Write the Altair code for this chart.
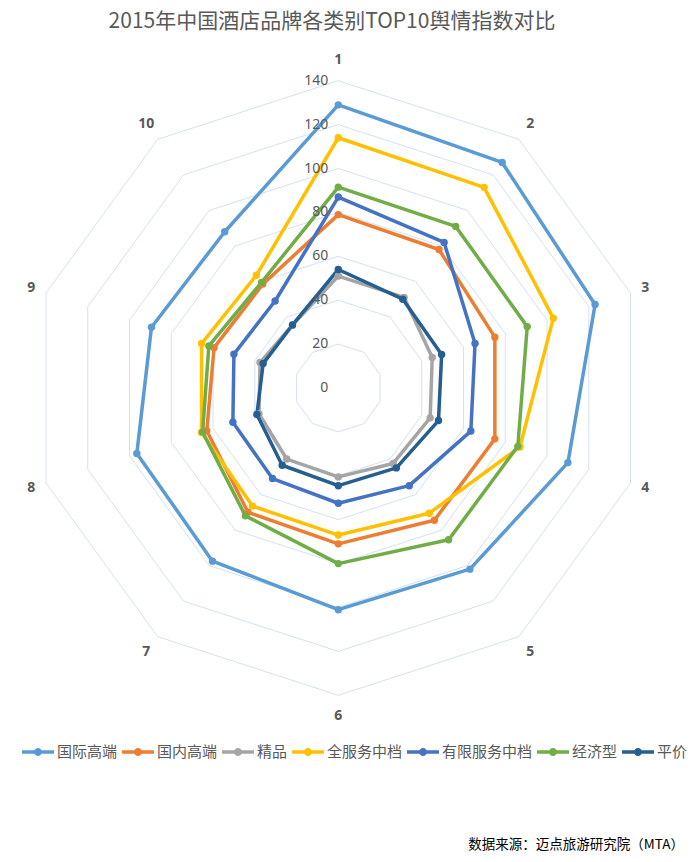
import altair as alt
import pandas as pd

# ---- data ----
axes = [str(i) for i in range(1, 11)]
series = ["国际高端", "国内高端", "精品", "全服务中档", "有限服务中档", "经济型", "平价"]
colors = ["#5B9BD5", "#ED7D31", "#A5A5A5", "#FFC000", "#4472C4", "#70AD47", "#255E91"]

v_intl_high = [129, 127, 123, 110, 102, 101, 97.5, 96.5, 89.5, 88]
v_dom_high = [79, 78, 75, 75, 74.5, 71, 70, 63, 59.5, 58.5]
v_boutique = [51, 51, 45, 44, 42.5, 40.5, 40, 38, 37.5, 35.5]
v_full_mid = [114, 113, 103, 87, 70.5, 67, 66.5, 65.5, 65.5, 63.5]
v_ltd_mid = [87, 82, 65.5, 63.5, 55, 52.5, 51, 50.5, 50, 49]
v_economy = [91.5, 91, 90.5, 86, 85.5, 80, 72, 65, 62, 59.5]
v_budget = [54, 50, 49.5, 48, 45, 44.5, 43.5, 39, 36, 35.5]

ticks = [0, 20, 40, 60, 80, 100, 120, 140]

title_text = "2015年中国酒店品牌各类别TOP10舆情指数对比"
source_text = "数据来源：迈点旅游研究院（MTA）"

# ---- tables ----
all_values = [v_intl_high, v_dom_high, v_boutique, v_full_mid, v_ltd_mid, v_economy, v_budget]
line_rows, point_rows = [], []
for si, (s, vals) in enumerate(zip(series, all_values)):
    for k in range(11):
        line_rows.append({"series": s, "color": colors[si], "si": si, "k": k, "value": vals[k % 10]})
    for k in range(10):
        point_rows.append({"series": s, "si": si, "k": k, "value": vals[k]})
line_df = pd.DataFrame(line_rows)
point_df = pd.DataFrame(point_rows)

grid_df = pd.DataFrame([{"ring": t, "k": k, "value": t} for t in ticks[1:] for k in range(11)])
tick_df = pd.DataFrame({"value": ticks, "label": [str(t) for t in ticks]})
axis_df = pd.DataFrame({"k": list(range(10)), "label": axes})

# ---- geometry ----
PAD_TOP = 14
W, H = 684, 846 - PAD_TOP
CX, CY = 330.3, 380.0 - PAD_TOP
K = 307.3 / 140.0  # px per unit
xdom = [-CX / K, (W - CX) / K]
ydom = [-(H - CY) / K, CY / K]

X = alt.X("px:Q", scale=alt.Scale(domain=xdom, nice=False, zero=False), axis=None)
Y = alt.Y("py:Q", scale=alt.Scale(domain=ydom, nice=False, zero=False), axis=None)

def polar(ch, r_expr="datum.value"):
    return ch.transform_calculate(
        theta="datum.k * PI / 5"
    ).transform_calculate(
        px=f"({r_expr}) * sin(datum.theta)",
        py=f"({r_expr}) * cos(datum.theta)",
    )

grid_color = "#D3E1F3"
text_color = "#595959"

grid = polar(alt.Chart(grid_df).mark_line(stroke=grid_color, strokeWidth=1)).encode(
    x=X, y=Y, detail="ring:N", order="k:Q"
)

lines = polar(alt.Chart(line_df).mark_line(strokeWidth=3.5, strokeJoin="round")).encode(
    x=X, y=Y,
    stroke=alt.Stroke("color:N", scale=None),
    detail="si:O",
    order="k:Q",
)

legend_path = ("M-1,-0.11L1,-0.11L1,0.11L-1,0.11Z "
               "M0.25,0A0.25,0.25,0,1,1,-0.25,0A0.25,0.25,0,1,1,0.25,0Z")

points = polar(alt.Chart(point_df).mark_point(filled=True, size=55, opacity=1)).encode(
    x=X, y=Y,
    color=alt.Color(
        "series:N",
        scale=alt.Scale(domain=series, range=colors),
        legend=alt.Legend(
            orient="none", legendX=14, legendY=728 - PAD_TOP, direction="horizontal",
            title=None, symbolType=legend_path, symbolSize=1024,
            symbolStrokeWidth=0, symbolOpacity=1,
            labelFont="Noto Sans CJK SC", labelFontSize=15, labelColor=text_color,
            labelOffset=3, columnPadding=4, labelLimit=0,
        ),
    ),
    order="si:Q",
)

tick_labels = alt.Chart(tick_df).mark_text(
    align="right", baseline="middle", dx=-10, fontSize=14, font="Noto Sans", color=text_color
).transform_calculate(px="0", py="datum.value").encode(x=X, y=Y, text="label:N")

axis_labels = polar(
    alt.Chart(axis_df).mark_text(
        align="center", baseline="middle", fontSize=14, font="Noto Sans",
        fontWeight="bold", color=text_color
    ),
    r_expr="145.9 + 3.65 * abs(cos(datum.theta))",
).encode(x=X, y=Y, text="label:N")

title = alt.Chart(pd.DataFrame({"t": [title_text]})).mark_text(
    align="center", baseline="middle", fontSize=21, font="Noto Sans CJK SC", color=text_color
).encode(x=alt.value(324), y=alt.value(14 - PAD_TOP), text="t:N")

source = alt.Chart(pd.DataFrame({"t": [source_text]})).mark_text(
    align="right", baseline="middle", fontSize=13.5, font="Noto Sans CJK SC", color="#000000"
).encode(x=alt.value(676), y=alt.value(837 - PAD_TOP), text="t:N")

chart = alt.layer(grid, lines, points, tick_labels, axis_labels, title, source).properties(
    width=W, height=H,
    autosize=alt.AutoSizeParams(type="none"),
    padding={"top": PAD_TOP, "left": 0, "right": 0, "bottom": 0},
    background="white",
).configure_view(stroke=None)

chart.save("out.html", embed_options={"renderer": "svg", "actions": False})
